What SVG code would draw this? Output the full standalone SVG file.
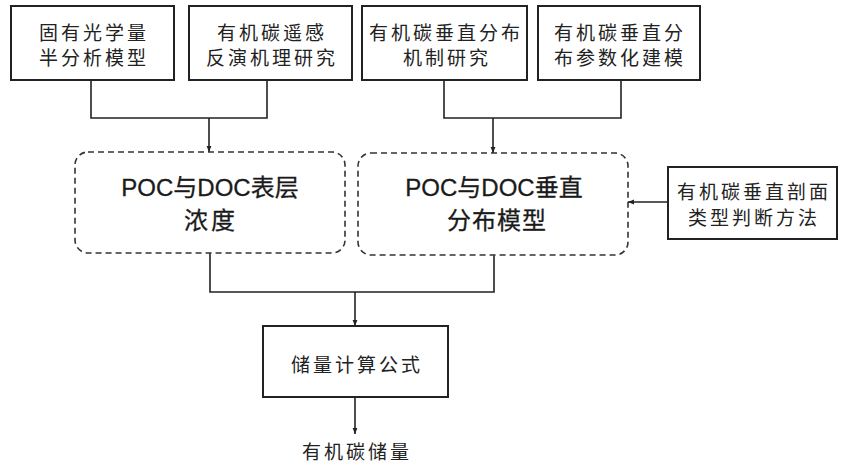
<svg xmlns="http://www.w3.org/2000/svg" width="842" height="463" viewBox="0 0 842 463">
<defs>
<style>
.box{fill:#fff;stroke:#222;stroke-width:2}
.dash{fill:#fff;stroke:#333;stroke-width:1.6;stroke-dasharray:6 4}
.ln{fill:none;stroke:#222;stroke-width:1.6}
.t{font-family:"Liberation Serif","Noto Sans CJK SC",serif;font-size:19px;fill:#222;text-anchor:middle;letter-spacing:3px}
.h{font-family:"Liberation Sans","Noto Sans CJK SC",sans-serif;font-size:24px;fill:#1a1a1a;text-anchor:middle;stroke:#1a1a1a;stroke-width:0.3}
</style>
<marker id="ar" viewBox="0 0 10 10" refX="10" refY="5" markerWidth="6" markerHeight="6" markerUnits="userSpaceOnUse" orient="auto">
<path d="M0,1 L10,5 L0,9 z" fill="#222"/>
</marker>
</defs>
<rect width="842" height="463" fill="#fff"/>
<g id="connectors">
<polyline class="ln" points="91,80 91,118 267,118 267,80"/>
<line class="ln" x1="209" y1="118" x2="209" y2="152" marker-end="url(#ar)"/>
<polyline class="ln" points="444,80 444,118 621,118 621,80"/>
<line class="ln" x1="493" y1="118" x2="493" y2="153" marker-end="url(#ar)"/>
<line class="ln" x1="668" y1="202" x2="628" y2="202" marker-end="url(#ar)"/>
<polyline class="ln" points="210,253 210,292 494,292 494,255"/>
<line class="ln" x1="355" y1="292" x2="355" y2="326" marker-end="url(#ar)"/>
<line class="ln" x1="355" y1="397" x2="355" y2="434" marker-end="url(#ar)"/>
</g>
<g id="n1">
<rect class="box" x="11" y="6" width="163" height="74"/>
<text class="t" x="94" y="40">固有光学量</text>
<text class="t" x="94" y="65">半分析模型</text>
</g>
<g id="n2">
<rect class="box" x="189" y="6" width="163" height="74"/>
<text class="t" x="272" y="40">有机碳遥感</text>
<text class="t" x="272" y="65">反演机理研究</text>
</g>
<g id="n3">
<rect class="box" x="362" y="6" width="165" height="74"/>
<text class="t" x="446" y="40">有机碳垂直分布</text>
<text class="t" x="447" y="65">机制研究</text>
</g>
<g id="n4">
<rect class="box" x="538" y="6" width="162" height="74"/>
<text class="t" x="620" y="40">有机碳垂直分</text>
<text class="t" x="620" y="65">布参数化建模</text>
</g>
<g id="n5">
<rect class="dash" x="75" y="152" width="270" height="101" rx="13"/>
<text class="h" x="210" y="196">POC与DOC表层</text>
<text class="h" x="211" y="229" letter-spacing="3">浓度</text>
</g>
<g id="n6">
<rect class="dash" x="358" y="153" width="270" height="102" rx="13"/>
<text class="h" x="494" y="196">POC与DOC垂直</text>
<text class="h" x="497" y="229" letter-spacing="1">分布模型</text>
</g>
<g id="n7">
<rect class="box" x="668" y="167" width="169" height="72"/>
<text class="t" x="754" y="199">有机碳垂直剖面</text>
<text class="t" x="754" y="225">类型判断方法</text>
</g>
<g id="n8">
<rect class="box" x="263" y="326" width="185" height="71"/>
<text class="t" x="357" y="372">储量计算公式</text>
</g>
<g id="n9">
<text class="t" x="357" y="459">有机碳储量</text>
</g>
</svg>
